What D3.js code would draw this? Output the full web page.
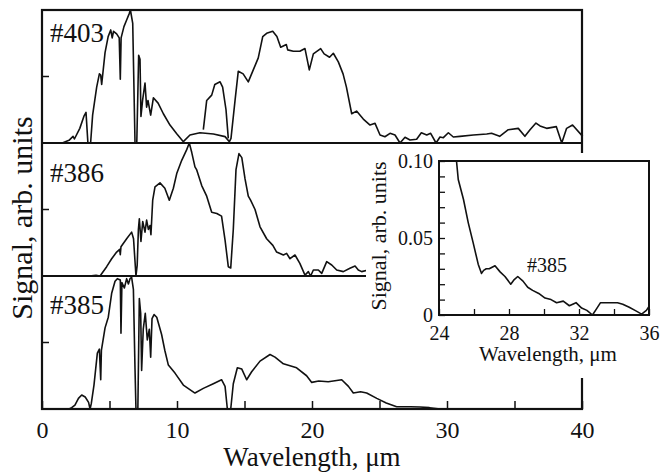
<!DOCTYPE html>
<html>
<head>
<meta charset="utf-8">
<script src="https://cdn.jsdelivr.net/npm/d3@7"></script>
<style>
	body { margin: 0; background: #fff; }
	svg { display: block; }
	text { font-family: "Liberation Serif", "Times New Roman", serif; fill: #111; }
</style>
</head>
<body>
<div id="chart"></div>
<script>
// wavelength (um) / signal (arb. units, panel normalised)
var s403 = [[0,0],[1.5,0],[2.0,0.02],[2.3,0.05],[2.4,0.03],[2.8,0.11],[3.1,0.2],[3.26,0.23],[3.4,0],[3.6,0],[3.75,0.21],[4.05,0.42],[4.25,0.52],[4.35,0.51],[4.42,0.44],[4.67,0.68],[4.9,0.8],[5.09,0.85],[5.2,0.79],[5.3,0.84],[5.53,0.82],[5.72,0.79],[5.8,0.48],[5.86,0.79],[6.07,0.875],[6.27,0.925],[6.47,0.975],[6.55,1.0],[6.72,0.9],[6.89,0],[7.02,0],[7.16,0.66],[7.26,0.63],[7.33,0.2],[7.45,0.32],[7.63,0.45],[7.75,0.27],[7.85,0.32],[8.05,0.21],[8.25,0.34],[8.6,0.3],[8.99,0.22],[9.48,0.135],[9.98,0.07],[10.47,0.01],[10.96,0.06],[11.7,0.077],[12.7,0.068],[13.56,0.048],[13.88,0.01],[14.0,0.035],[14.3,0.32],[14.54,0.54],[14.9,0.52],[15.28,0.46],[15.65,0.55],[16.02,0.64],[16.35,0.8],[16.64,0.825],[17.09,0.84],[17.4,0.8],[17.68,0.72],[18.1,0.74],[18.2,0.7],[18.62,0.69],[19.1,0.69],[19.48,0.71],[19.8,0.55],[20.1,0.67],[20.64,0.71],[20.9,0.67],[21.3,0.645],[21.58,0.675],[21.95,0.61],[22.3,0.52],[22.55,0.42],[22.94,0.22],[23.3,0.24],[23.8,0.18],[24.3,0.135],[24.67,0.148],[25.04,0.06],[25.4,0.047],[25.78,0.073],[26.15,0.06],[26.52,0],[26.89,0.043],[27.26,0.023],[27.75,0.028],[28.1,0.077],[28.5,0.06],[28.79,0.073],[29.19,0],[29.48,0.045],[29.73,0.04],[30.1,0.077],[30.47,0.045],[30.96,0.05],[31.95,0.06],[32.94,0.068],[33.3,0.073],[33.9,0.05],[34.54,0.1],[35.28,0.11],[35.77,0.05],[36.15,0.1],[36.59,0.15],[36.89,0.128],[37.38,0.11],[38.1,0.123],[38.5,0],[38.86,0.11],[39.3,0.135],[40.05,0.05]];
// second trace overlapping #403 around 12-14 um
var s403b = [[11.95,0.1],[12.2,0.32],[12.57,0.36],[12.8,0.44],[13.19,0.46],[13.38,0.42],[13.63,0.25],[13.8,0.035]];
var s386 = [[0,0],[3.5,0],[4.0,0.005],[4.3,0],[4.79,0.07],[5.16,0.13],[5.53,0.18],[5.75,0.2],[5.8,0.16],[5.85,0.22],[6.27,0.28],[6.64,0.33],[6.78,0.28],[6.96,0],[7.05,0.08],[7.14,0.35],[7.21,0.43],[7.33,0.26],[7.46,0.41],[7.63,0.33],[7.75,0.42],[7.88,0.35],[8.0,0.38],[8.07,0.31],[8.2,0.57],[8.37,0.67],[8.74,0.7],[9.1,0.66],[9.43,0.57],[9.73,0.66],[9.98,0.77],[10.35,0.87],[10.72,0.95],[10.91,1.0],[11.09,0.93],[11.33,0.82],[11.45,0.8],[11.83,0.68],[12.2,0.6],[12.57,0.48],[12.95,0.47],[13.3,0.45],[13.56,0.27],[13.8,0.07],[13.98,0.06],[14.17,0.35],[14.37,0.8],[14.59,0.92],[14.8,0.89],[15.04,0.73],[15.28,0.6],[15.45,0.57],[15.78,0.5],[16.15,0.37],[16.64,0.28],[17.1,0.23],[17.38,0.18],[17.88,0.158],[18.12,0.17],[18.37,0.13],[18.74,0.158],[19.1,0.095],[19.48,0.007],[19.73,0.033],[19.9,0],[20.1,0.045],[20.47,0.045],[20.72,0.02],[21.09,0.108],[21.46,0.083],[21.83,0.045],[22.32,0.033],[22.81,0.058],[23.19,0.075],[23.43,0.045],[23.68,0.033],[24.17,0.045]];
var s385 = [[0,0],[2.0,0],[2.2,0.01],[2.44,0.03],[2.7,0.08],[2.94,0.105],[3.2,0.09],[3.45,0.05],[3.56,0],[3.65,0.04],[3.85,0.18],[4.1,0.42],[4.25,0.45],[4.35,0.22],[4.4,0.44],[4.67,0.61],[4.91,0.69],[5.16,0.87],[5.41,0.96],[5.58,0.98],[5.8,0.97],[5.85,0.57],[5.92,0.95],[6.1,0.91],[6.27,0.98],[6.4,0.94],[6.52,0.98],[6.64,0.99],[6.77,0.9],[6.89,0.3],[6.96,0],[7.1,0],[7.21,0.83],[7.31,0.72],[7.38,0.29],[7.5,0.6],[7.65,0.72],[7.8,0.52],[7.95,0.6],[8.05,0.39],[8.15,0.68],[8.3,0.71],[8.5,0.69],[8.86,0.56],[9.1,0.44],[9.36,0.33],[9.85,0.27],[10.47,0.18],[11.33,0.12],[11.95,0.155],[12.69,0.19],[13.3,0.22],[13.56,0.17],[13.73,0],[13.98,0],[14.17,0.19],[14.47,0.31],[14.8,0.3],[15.16,0.22],[15.53,0.28],[16.15,0.36],[16.89,0.41],[17.26,0.39],[17.88,0.34],[18.86,0.31],[19.6,0.25],[19.98,0.2],[20.5,0.21],[21.2,0.205],[22.2,0.22],[22.7,0.17],[23.06,0.12],[23.6,0.13],[24.05,0.12],[24.8,0.08],[25.5,0.045],[26.27,0.017],[27.3,0.017],[28.0,0.015],[28.7,0.01],[29.5,0],[40,0]];
// inset: #385 long-wave tail, real signal units
var i385 = [[25.0,0.1],[25.1,0.088],[25.4,0.075],[25.67,0.06],[25.95,0.047],[26.24,0.033],[26.43,0.027],[26.55,0.029],[26.7,0.03],[26.87,0.03],[27.2,0.032],[27.49,0.028],[27.77,0.025],[28.1,0.02],[28.3,0.023],[28.5,0.025],[28.8,0.022],[29.07,0.018],[29.35,0.016],[29.7,0.014],[30.06,0.011],[30.4,0.01],[30.72,0.008],[31.1,0.009],[31.45,0.006],[31.83,0.008],[32.15,0.0045],[32.45,0.003],[32.77,0],[33.0,0.004],[33.23,0.008],[33.6,0.008],[34.2,0.008],[34.5,0.007],[34.87,0.005],[35.2,0.003],[35.58,0.0006],[35.85,0.003],[36,0.0055]];

var panelNames = ["#403", "#386", "#385"];
var xTicks = [0, 5, 10, 15, 20, 25, 30, 35, 40];
var insetXTicks = [24, 26, 28, 30, 32, 34, 36];
var insetYTicks = [0, 0.01, 0.02, 0.03, 0.04, 0.05, 0.06, 0.07, 0.08, 0.09, 0.1];

(function(){
	"use strict";

	var W = 672, H = 472;
	var fLeft = 42, fRight = 582, fTop = 10, panelH = 133;
	var fBottom = fTop + 3 * panelH;
	var serif = "'Liberation Serif', 'Times New Roman', serif";

	var svg = d3.select("#chart").append("svg").attr("width", W).attr("height", H);

	var x = d3.scaleLinear().domain([0, 40]).range([fLeft, fRight]);

	function panelY(i){
		return d3.scaleLinear().domain([0, 1]).range([fTop + (i + 1) * panelH, fTop + i * panelH]);
	}

	var panels = [[s403, s403b], [s386], [s385]];

	panels.forEach(function(series, i){
		var y = panelY(i);
		var line = d3.line().x(function(d){ return x(d[0]); }).y(function(d){ return y(d[1]); });
		series.forEach(function(s){
			svg.append("path").datum(s)
				.attr("d", line)
				.attr("fill", "none")
				.attr("stroke", "#111")
				.attr("stroke-width", 1.6)
				.attr("stroke-linejoin", "round");
		});
		// panel divider / baseline
		svg.append("line")
			.attr("x1", fLeft).attr("x2", fRight)
			.attr("y1", y(0)).attr("y2", y(0))
			.attr("stroke", "#111").attr("stroke-width", 2);
		// one inward tick on left axis at mid height
		svg.append("line")
			.attr("x1", fLeft).attr("x2", fLeft + 7)
			.attr("y1", y(0.5)).attr("y2", y(0.5))
			.attr("stroke", "#111").attr("stroke-width", 1.5);
		svg.append("text")
			.attr("x", 50)
			.attr("y", [42, 182, 314][i])
			.attr("font-size", 27)
			.text(panelNames[i]);
	});

	// outer frame
	svg.append("rect")
		.attr("x", fLeft).attr("y", fTop)
		.attr("width", fRight - fLeft).attr("height", fBottom - fTop)
		.attr("fill", "none").attr("stroke", "#111").attr("stroke-width", 2.2);

	// bottom axis
	var xAxis = svg.append("g")
		.attr("transform", "translate(0," + fBottom + ")")
		.call(d3.axisBottom(x).tickValues(xTicks).tickSize(-8)
			.tickFormat(function(d){ return d % 10 === 0 ? d : ""; }));
	xAxis.select(".domain").remove();
	xAxis.selectAll(".tick line").attr("stroke", "#111").attr("stroke-width", 1.5);
	xAxis.selectAll(".tick text")
		.attr("y", 29).attr("dy", 0)
		.attr("font-size", 24)
		.style("font-family", serif).attr("fill", "#111");

	svg.append("text")
		.attr("x", (fLeft + fRight) / 2).attr("y", 466)
		.attr("text-anchor", "middle").attr("font-size", 27)
		.text("Wavelength, \u03bcm");

	svg.append("text")
		.attr("transform", "translate(32," + 218 + ") rotate(-90)")
		.attr("text-anchor", "middle").attr("font-size", 30)
		.text("Signal, arb. units");

	/////////////////////////////////////////////
	// inset
	var ib = {x0: 366, y0: 153, x1: 672, y1: 378};
	var ia = {l: 439, r: 649, t: 161, b: 315};

	svg.append("rect")
		.attr("x", ib.x0).attr("y", ib.y0)
		.attr("width", ib.x1 - ib.x0).attr("height", ib.y1 - ib.y0)
		.attr("fill", "#fff");

	var ix = d3.scaleLinear().domain([24, 36]).range([ia.l, ia.r]);
	var iy = d3.scaleLinear().domain([0, 0.1]).range([ia.b, ia.t]);

	svg.append("path").datum(i385)
		.attr("d", d3.line().x(function(d){ return ix(d[0]); }).y(function(d){ return iy(d[1]); }))
		.attr("fill", "none").attr("stroke", "#111")
		.attr("stroke-width", 1.6).attr("stroke-linejoin", "round");

	var ixAxis = svg.append("g")
		.attr("transform", "translate(0," + ia.b + ")")
		.call(d3.axisBottom(ix).tickValues(insetXTicks).tickSize(-6)
			.tickFormat(function(d){ return d % 4 === 0 ? d : ""; }));
	ixAxis.select(".domain").remove();
	ixAxis.selectAll(".tick line").attr("stroke", "#111").attr("stroke-width", 1.3);
	ixAxis.selectAll(".tick text")
		.attr("y", 25).attr("dy", 0).attr("font-size", 20)
		.style("font-family", serif).attr("fill", "#111");

	var iyAxis = svg.append("g")
		.attr("transform", "translate(" + ia.l + ",0)")
		.call(d3.axisLeft(iy).tickValues(insetYTicks).tickSize(-6)
			.tickFormat(function(d){
				if (d === 0) return "0";
				if (Math.abs(d - 0.05) < 1e-9) return "0.05";
				if (Math.abs(d - 0.1) < 1e-9) return "0.10";
				return "";
			}));
	iyAxis.select(".domain").remove();
	iyAxis.selectAll(".tick line").attr("stroke", "#111").attr("stroke-width", 1.3);
	iyAxis.selectAll(".tick text")
		.attr("x", -6).attr("dy", "0.3em").attr("font-size", 20)
		.style("font-family", serif).attr("fill", "#111");

	svg.append("rect")
		.attr("x", ia.l).attr("y", ia.t)
		.attr("width", ia.r - ia.l).attr("height", ia.b - ia.t)
		.attr("fill", "none").attr("stroke", "#111").attr("stroke-width", 2);

	svg.append("text")
		.attr("x", 548).attr("y", 361)
		.attr("text-anchor", "middle").attr("font-size", 21)
		.text("Wavelength, \u03bcm");

	svg.append("text")
		.attr("transform", "translate(386," + 236 + ") rotate(-90)")
		.attr("text-anchor", "middle").attr("font-size", 22)
		.text("Signal, arb. units");

	svg.append("text")
		.attr("x", 527).attr("y", 272)
		.attr("font-size", 20)
		.text("#385");
})();
</script>
</body>
</html>
